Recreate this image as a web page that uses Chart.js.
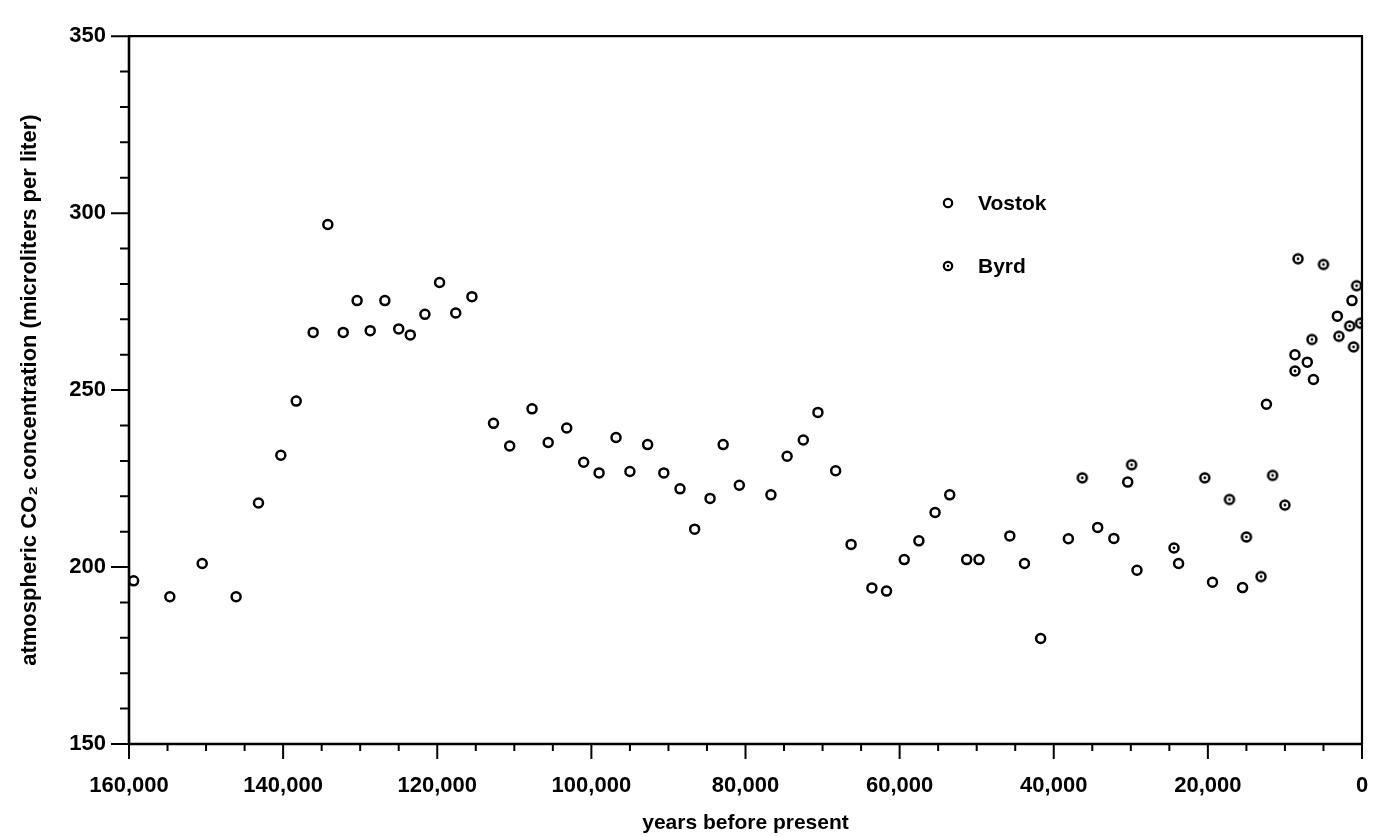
<!DOCTYPE html>
<html>
<head>
<meta charset="utf-8">
<script src="https://cdn.jsdelivr.net/npm/chart.js@4.4.1/dist/chart.umd.min.js"></script>
<style>
html,body{margin:0;padding:0;background:#fff;}
#wrap{width:1373px;height:836px;position:relative;}
</style>
</head>
<body>
<div id="wrap"><canvas id="c" width="1373" height="836"></canvas></div>
<script>
// ---- data (years before present, CO2 in microliters per liter) ----
const vostokYears = [159400,154700,150500,146100,143200,140300,138300,136100,134200,132200,130400,128700,126800,125000,123500,121600,119700,117600,115500,112700,110600,107700,105600,103200,101000,99000,96800,95000,92700,90600,88500,86600,84600,82900,80800,76700,74600,72500,70600,68300,66300,63600,61700,59400,57500,55400,53500,51300,49700,45700,43800,41700,38100,34300,32200,30400,29200,23800,19400,15500,12400,8700,7100,6300,3200,1300];
const vostokCO2 = [196.1,191.6,201.0,191.6,218.1,231.6,246.9,266.3,296.8,266.3,275.3,266.8,275.3,267.3,265.6,271.4,280.4,271.8,276.4,240.6,234.2,244.7,235.2,239.3,229.6,226.6,236.6,227.0,234.6,226.6,222.1,210.7,219.4,234.6,223.1,220.4,231.3,235.9,243.7,227.2,206.4,194.1,193.2,202.1,207.4,215.4,220.4,202.1,202.1,208.8,201.0,179.8,208.0,211.2,208.1,224.0,199.1,201.0,195.7,194.2,246.0,260.0,257.9,253.0,270.9,275.3];
const byrdYears = [36300,29900,24400,20400,17200,15000,13100,11600,10000,8700,8300,6500,5000,3000,1600,1100,700,200];
const byrdCO2 = [225.2,228.9,205.4,225.2,219.1,208.5,197.3,225.9,217.5,255.4,287.1,264.3,285.5,265.2,268.1,262.2,279.5,268.9];
const seriesNames = ['Vostok','Byrd'];
const xTickValues = [0,20000,40000,60000,80000,100000,120000,140000,160000];
const yTickValues = [150,200,250,300,350];
const xTitle = 'years before present';
const yTitle = 'atmospheric CO\u2082 concentration (microliters per liter)';

const FONT = '"Liberation Sans", Arial, Helvetica, sans-serif';
const MARK_R = 4.5, MARK_LW = 2.5, DOT_R = 1.4;

function toPoints(xs, ys){ return xs.map((x,i)=>({x:x, y:ys[i]})); }

// Byrd marker: circle with a centre dot
function makeByrdMarker(r, lw, dot){
  const s = Math.ceil(2*r + lw + 2);
  const c = document.createElement('canvas');
  c.width = s; c.height = s;
  const g = c.getContext('2d');
  g.strokeStyle = '#000'; g.lineWidth = lw;
  g.beginPath(); g.arc(s/2, s/2, r, 0, Math.PI*2); g.stroke();
  g.fillStyle = '#000';
  g.beginPath(); g.arc(s/2, s/2, dot, 0, Math.PI*2); g.fill();
  return c;
}
const byrdMarker = makeByrdMarker(MARK_R, MARK_LW, DOT_R);

const framePlugin = {
  id: 'frame',
  beforeDatasetsDraw(chart){
    const {ctx, chartArea:a, scales:{x, y}} = chart;
    ctx.save();
    ctx.strokeStyle = '#000';
    ctx.lineCap = 'butt';
    ctx.lineWidth = 2.2;
    ctx.beginPath();
    ctx.moveTo(a.left, a.top); ctx.lineTo(a.right + 1, a.top);
    ctx.moveTo(a.right, a.top); ctx.lineTo(a.right, a.bottom);
    ctx.stroke();
    ctx.lineWidth = 2.6;
    ctx.beginPath();
    ctx.moveTo(a.left, a.top - 1); ctx.lineTo(a.left, a.bottom + 1);
    ctx.moveTo(a.left - 1, a.bottom); ctx.lineTo(a.right + 1, a.bottom);
    ctx.stroke();
    ctx.lineWidth = 2;
    ctx.beginPath();
    for (let v = x.min; v <= x.max; v += 5000){
      const px = x.getPixelForValue(v);
      const len = (v % 20000 === 0) ? 15 : 7;
      ctx.moveTo(px, a.bottom); ctx.lineTo(px, a.bottom + len);
    }
    for (let v = y.min; v <= y.max; v += 10){
      const py = y.getPixelForValue(v);
      const len = (v % 50 === 0) ? 18 : 9;
      ctx.moveTo(a.left, py); ctx.lineTo(a.left - len, py);
    }
    ctx.stroke();
    ctx.restore();
  },
  afterDraw(chart){
    const ctx = chart.ctx;
    ctx.save();
    const lx = 948, ly = [203, 266], tx = 978;
    ctx.font = 'bold 21px ' + FONT;
    ctx.textBaseline = 'middle';
    ctx.textAlign = 'left';
    ctx.fillStyle = '#000';
    chart.data.datasets.forEach((ds, i) => {
      const cy = ly[i];
      ctx.strokeStyle = '#000';
      ctx.lineWidth = 2.2;
      ctx.beginPath(); ctx.arc(lx, cy, 4.2, 0, Math.PI*2); ctx.stroke();
      if (i === 1){ ctx.beginPath(); ctx.arc(lx, cy, 1.3, 0, Math.PI*2); ctx.fill(); }
      ctx.fillText(ds.label, tx, cy + 1);
    });
    ctx.restore();
  }
};

new Chart(document.getElementById('c'), {
  type: 'scatter',
  data: {
    datasets: [
      { label: seriesNames[0], data: toPoints(vostokYears, vostokCO2),
        pointStyle: 'circle', pointRadius: MARK_R, pointBorderWidth: MARK_LW,
        borderColor: '#000', backgroundColor: 'rgba(0,0,0,0)', pointHoverRadius: MARK_R },
      { label: seriesNames[1], data: toPoints(byrdYears, byrdCO2),
        pointStyle: byrdMarker, pointRadius: MARK_R,
        borderColor: '#000', backgroundColor: 'rgba(0,0,0,0)' }
    ]
  },
  options: {
    responsive: false,
    animation: false,
    devicePixelRatio: 1,
    layout: { padding: { top: 18, right: 11, left: 0, bottom: 0 } },
    plugins: { legend: { display: false }, tooltip: { enabled: false } },
    scales: {
      x: {
        type: 'linear', reverse: true, min: 0, max: 160000,
        afterBuildTicks: (s) => { s.ticks = xTickValues.map(v => ({value: v})); },
        afterFit: (s) => { s.height = 92; },
        grid: { display: false, drawTicks: false },
        border: { display: false },
        ticks: { padding: 29, color: '#000', maxRotation: 0, autoSkip: false,
                 font: { family: FONT, size: 22, weight: 'bold' },
                 callback: (v) => Number(v).toLocaleString('en-US') },
        title: { display: true, text: xTitle, color: '#000',
                 font: { family: FONT, size: 21, weight: 'bold' }, padding: { top: 0, bottom: 0 } }
      },
      y: {
        type: 'linear', min: 150, max: 350,
        afterBuildTicks: (s) => { s.ticks = yTickValues.map(v => ({value: v})); },
        afterFit: (s) => { s.width = 129; },
        grid: { display: false, drawTicks: false },
        border: { display: false },
        ticks: { padding: 23, color: '#000', font: { family: FONT, size: 22, weight: 'bold' } },
        title: { display: true, text: yTitle, color: '#000',
                 font: { family: FONT, size: 22, weight: 'bold' }, padding: { top: 17, bottom: 0 } }
      }
    }
  },
  plugins: [framePlugin]
});
</script>
</body>
</html>
